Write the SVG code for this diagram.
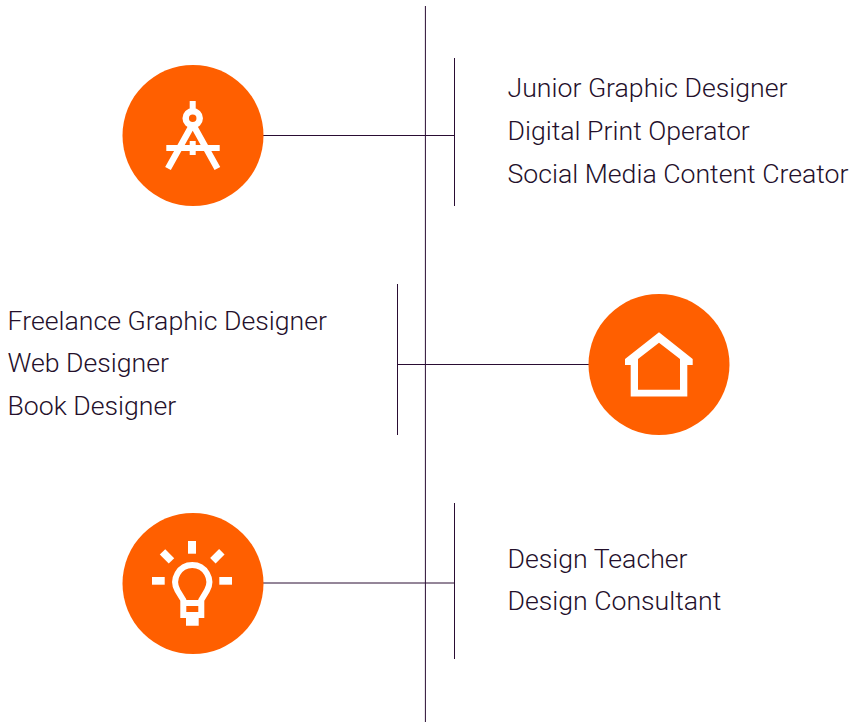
<svg xmlns="http://www.w3.org/2000/svg" width="855" height="722" viewBox="0 0 855 722">
<style>
.c{stroke:#2a0d33;stroke-width:1;fill:none}
.d{fill:#ff5f00}
.i{fill:#fff}
.s{stroke:#fff;fill:none;stroke-width:6}
text{font-family:Roboto,"Liberation Sans",sans-serif;font-weight:300;font-size:26.67px;fill:#24102b}
</style>
<rect width="855" height="722" fill="#fff"/>
<g id="connectors">
<path class="c" d="M425.400 6V722M454.500 58V206M263 135.500H454.500M397.500 284V435M397.500 364.500H589M454.500 503V659M263 583H454.500"/>
</g>
<g id="node-compass">
<circle class="d" cx="193" cy="135.500" r="70.500"/>
<rect class="i" x="189.700" y="101" width="6" height="10"/>
<circle class="s" cx="192.700" cy="118.300" r="7" style="stroke-width:6.500"/>
<path class="s" d="M192.200 125L168 168.500M193.200 125L217.400 168.500" style="stroke-width:6.500"/>
<rect class="i" x="166.300" y="145" width="53.400" height="6"/>
<rect class="i" x="189.700" y="141" width="6" height="14"/>
</g>
<g id="node-house">
<circle class="d" cx="659" cy="364.500" r="70.500"/>
<path class="i" fill-rule="evenodd" d="M659 332.300L692.700 359V365H687.300V396.500H630.700V365H625V359ZM659 342.700L638 359V389.700H680V359Z"/>
</g>
<g id="node-bulb">
<circle class="d" cx="193" cy="583.500" r="70.500"/>
<rect class="i" x="188" y="541" width="8" height="12.700"/>
<rect class="i" x="152" y="577" width="12.700" height="7.700"/>
<rect class="i" x="219.300" y="577" width="12.700" height="7.700"/>
<rect class="i" x="160.700" y="552.500" width="12.700" height="7.700" transform="rotate(45 167 556.300)"/>
<rect class="i" x="211" y="552.500" width="12.700" height="7.700" transform="rotate(-45 217.300 556.300)"/>
<path class="s" d="M183.300 615V600L177.500 590.500A17 17 0 1 1 207 590.500L201.300 600V615Z"/>
<path class="i" d="M184 600H201V606H184ZM186 617H198.700V625.700H186Z"/>
</g>
<g id="text-1">
<text x="507.500" y="97">Junior Graphic Designer</text>
<text x="507.500" y="140">Digital Print Operator</text>
<text x="507.500" y="183">Social Media Content Creator</text>
</g>
<g id="text-2">
<text x="7.500" y="330">Freelance Graphic Designer</text>
<text x="7.500" y="372">Web Designer</text>
<text x="7.500" y="415">Book Designer</text>
</g>
<g id="text-3">
<text x="507.500" y="568">Design Teacher</text>
<text x="507.500" y="610">Design Consultant</text>
</g>
</svg>
